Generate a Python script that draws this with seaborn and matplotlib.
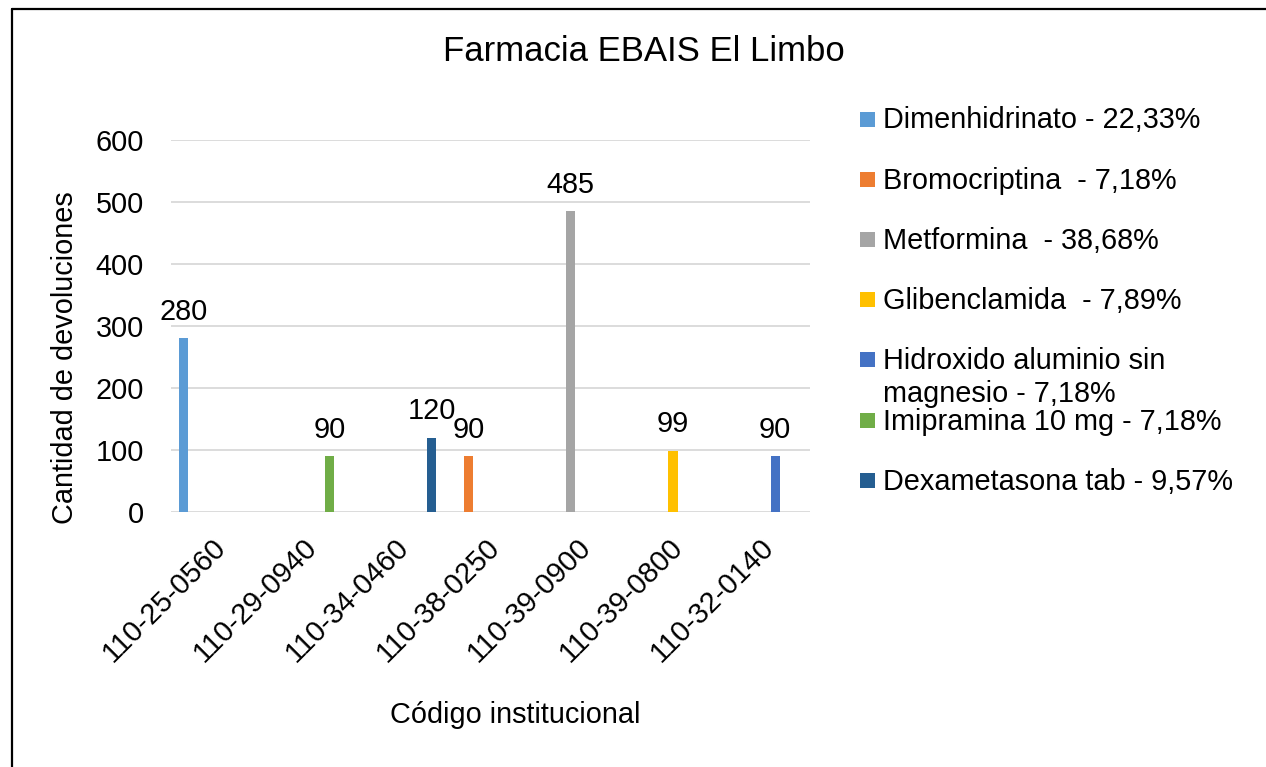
import matplotlib
matplotlib.use("Agg")
import matplotlib.pyplot as plt
import seaborn as sns
import pandas as pd
from matplotlib.lines import Line2D
from matplotlib.patches import Rectangle
from matplotlib.transforms import ScaledTranslation

# ---------------- data ----------------
categories = ["110-25-0560", "110-29-0940", "110-34-0460", "110-38-0250",
              "110-39-0900", "110-39-0800", "110-32-0140"]
series = ["Dimenhidrinato - 22,33%", "Bromocriptina  - 7,18%", "Metformina  - 38,68%",
          "Glibenclamida  - 7,89%", "Hidroxido aluminio sin\nmagnesio - 7,18%",
          "Imipramina 10 mg - 7,18%", "Dexametasona tab - 9,57%"]
series_category = ["110-25-0560", "110-38-0250", "110-39-0900", "110-39-0800",
                   "110-32-0140", "110-29-0940", "110-34-0460"]
values = [280, 90, 485, 99, 90, 90, 120]
colors = ["#5B9BD5", "#ED7D31", "#A5A5A5", "#FFC000", "#4472C4", "#70AD47", "#255E91"]
yticks = [0, 100, 200, 300, 400, 500, 600]
title = "Farmacia EBAIS El Limbo"
xlabel = "Código institucional"
ylabel = "Cantidad de devoluciones"

df = pd.DataFrame({"codigo": series_category, "serie": series, "valor": values})

# ---------------- style ----------------
sns.set_style("white")
plt.rcParams["font.family"] = ["Liberation Sans", "DejaVu Sans"]
plt.rcParams["text.color"] = "black"
plt.rcParams["xtick.color"] = "black"
plt.rcParams["ytick.color"] = "black"
FS = 20.8

W, H = 1266, 767
fig = plt.figure(figsize=(W / 100, H / 100), dpi=100)
ax = fig.add_axes([170.75 / W, 1 - 512 / H, (810 - 170.75) / W, (512 - 140) / H])

sns.barplot(data=df, x="codigo", y="valor", hue="serie", order=categories,
            hue_order=series, palette=colors, width=0.835, gap=0.17, dodge=True,
            saturation=1, errorbar=None, linewidth=0, legend=False, ax=ax)

for cont in ax.containers:
    ax.bar_label(cont, fmt="%g", padding=9, fontsize=FS, color="black", clip_on=False)

ax.set_ylim(0, 600)
ax.set_xlim(-0.5, len(categories) - 0.5)
ax.set_yticks(yticks)
ax.yaxis.grid(True, color="#D9D9D9", linewidth=1.3)
ax.set_axisbelow(True)
for s in ax.spines.values():
    s.set_visible(False)
ax.set_xlabel("")
ax.set_ylabel("")
ax.tick_params(axis="y", length=0, pad=19.4, labelsize=FS, labelcolor="black")
ax.tick_params(axis="x", length=0, pad=22.3, labelsize=FS, labelcolor="black")
off = ScaledTranslation(5 / 100, 0, fig.dpi_scale_trans)
for lbl in ax.get_xticklabels():
    lbl.set_rotation(45)
    lbl.set_ha("right")
    lbl.set_va("center")
    lbl.set_rotation_mode("anchor")
    lbl.set_transform(lbl.get_transform() + off)

# titles
fig.text(644 / W, 1 - 61 / H, title, ha="center", va="baseline", fontsize=25)
fig.text(65 / W, 1 - 358 / H, ylabel, ha="center", va="center", rotation=90, fontsize=FS)
fig.text(515 / W, 1 - 723 / H, xlabel, ha="center", va="baseline", fontsize=FS)

# legend (drawn manually to mimic the Excel layout)
for i, (lab, col) in enumerate(zip(series, colors)):
    yc = 119 + 60.2 * i
    fig.add_artist(Rectangle((860 / W, 1 - (yc + 7.5) / H), 15 / W, 15 / H,
                             facecolor=col, edgecolor="none", transform=fig.transFigure))
    for j, line in enumerate(lab.split("\n")):
        fig.text(883 / W, 1 - (yc + 9.5 + 33 * j) / H, line, ha="left", va="baseline",
                 fontsize=FS)

# chart border (top and left visible)
fig.add_artist(Line2D([12 / W, 12 / W], [0, 1 - 9 / H], color="black", lw=1.6,
                      transform=fig.transFigure))
fig.add_artist(Line2D([12 / W, 1], [1 - 9 / H, 1 - 9 / H], color="black", lw=1.6,
                      transform=fig.transFigure))

fig.savefig("out.png", dpi=100)
